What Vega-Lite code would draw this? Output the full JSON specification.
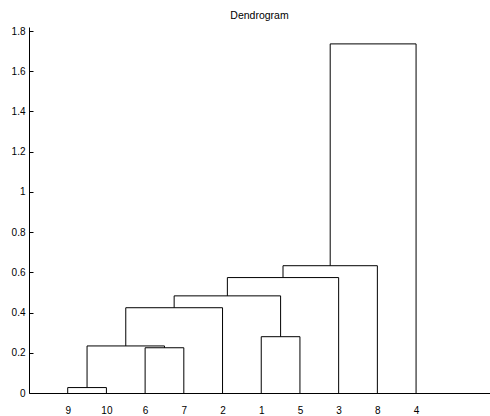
{
  "$schema": "https://vega.github.io/schema/vega-lite/v6.json",
  "autosize": "none",
  "width": 461,
  "height": 366,
  "padding": {"left": 29, "top": 27, "right": 0, "bottom": 23},
  "background": "white",
  "title": {"text": "Dendrogram", "fontSize": 10.5, "font": "Liberation Sans", "fontWeight": "normal", "color": "#000000", "anchor": "middle", "offset": 5},
  "config": {
    "view": {"stroke": null},
    "axis": {"labelFont": "Liberation Sans", "labelFontSize": 10, "labelColor": "#000000", "domainColor": "#000000", "tickColor": "#000000", "grid": false, "title": null}
  },
  "data": {
    "values": [
      {"merge": "A", "xl": 1, "xr": 2, "yl": 0, "yr": 0, "h": 0.027},
      {"merge": "B", "xl": 3, "xr": 4, "yl": 0, "yr": 0, "h": 0.225},
      {"merge": "C", "xl": 1.5, "xr": 3.5, "yl": 0.027, "yr": 0.225, "h": 0.234},
      {"merge": "D", "xl": 2.5, "xr": 5, "yl": 0.234, "yr": 0, "h": 0.424},
      {"merge": "E", "xl": 6, "xr": 7, "yl": 0, "yr": 0, "h": 0.28},
      {"merge": "F", "xl": 3.75, "xr": 6.5, "yl": 0.424, "yr": 0.28, "h": 0.483},
      {"merge": "G", "xl": 5.125, "xr": 8, "yl": 0.483, "yr": 0, "h": 0.574},
      {"merge": "H", "xl": 6.5625, "xr": 9, "yl": 0.574, "yr": 0, "h": 0.633},
      {"merge": "I", "xl": 7.78125, "xr": 10, "yl": 0.633, "yr": 0, "h": 1.736}
    ]
  },
  "layer": [
    {
      "mark": {"type": "rule", "color": "#000000", "strokeWidth": 1},
      "encoding": {
        "x": {"field": "xl", "type": "quantitative", "scale": {"domain": [0, 11.91], "nice": false, "zero": false},
          "axis": {"values": [1,2,3,4,5,6,7,8,9,10], "ticks": false, "labelPadding": 17, "labelBaseline": "middle", "labelDx": -1.5,
            "labelExpr": "['','9','10','6','7','2','1','5','3','8','4'][datum.value]"}},
        "y": {"field": "yl", "type": "quantitative", "scale": {"domain": [0, 1.82], "nice": false},
          "axis": {"values": [0,0.2,0.4,0.6,0.8,1,1.2,1.4,1.6,1.8], "format": ".1~f", "tickSize": -4, "labelPadding": 8}},
        "y2": {"field": "h"}
      }
    },
    {
      "mark": {"type": "rule", "color": "#000000", "strokeWidth": 1},
      "encoding": {
        "x": {"field": "xl", "type": "quantitative"},
        "x2": {"field": "xr"},
        "y": {"field": "h", "type": "quantitative"}
      }
    },
    {
      "mark": {"type": "rule", "color": "#000000", "strokeWidth": 1},
      "encoding": {
        "x": {"field": "xr", "type": "quantitative"},
        "y": {"field": "yr", "type": "quantitative"},
        "y2": {"field": "h"}
      }
    }
  ]
}
